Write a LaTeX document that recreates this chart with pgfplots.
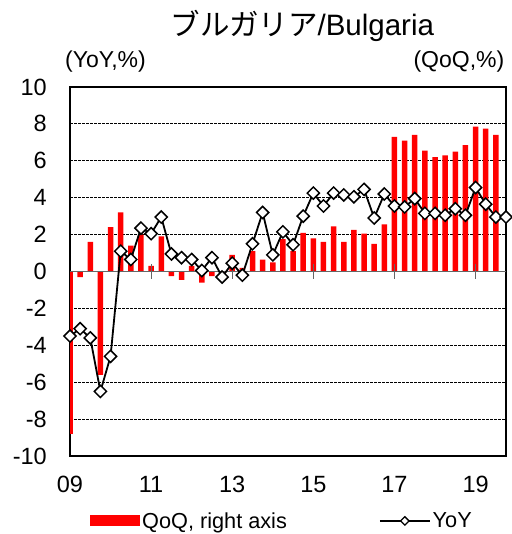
\documentclass[border=0pt]{standalone}
\usepackage{pgfplots}
\pgfplotsset{compat=1.18}
\usepackage{pgfplotstable}
\usepackage{fontspec}
\setmainfont{Liberation Sans}
\newfontfamily\jp{Noto Sans CJK JP}

\pgfplotstableread{
i qoq
0 -8.8
1 -0.3
2 1.6
3 -5.6
4 2.4
5 3.2
6 1.4
7 2.0
8 0.3
9 1.9
10 -0.25
11 -0.45
12 0.3
13 -0.6
14 -0.25
15 -0.1
16 0.9
17 0.2
18 1.1
19 0.65
20 0.5
21 1.75
22 1.1
23 2.1
24 1.8
25 1.6
26 2.45
27 1.6
28 2.25
29 2.05
30 1.5
31 2.55
32 7.3
33 7.1
34 7.4
35 6.55
36 6.2
37 6.3
38 6.5
39 6.85
40 7.85
41 7.75
42 7.4
}\qoqdata

\pgfplotstableread{
i yoy
0 -3.5
1 -3.1
2 -3.6
3 -6.5
4 -4.6
5 1.1
6 0.65
7 2.35
8 2.05
9 2.95
10 0.95
11 0.75
12 0.65
13 0.05
14 0.75
15 -0.3
16 0.45
17 -0.2
18 1.5
19 3.2
20 0.9
21 2.15
22 1.45
23 3.0
24 4.25
25 3.55
26 4.25
27 4.15
28 4.05
29 4.45
30 2.9
31 4.2
32 3.55
33 3.5
34 3.95
35 3.15
36 3.15
37 3.05
38 3.4
39 3.05
40 4.55
41 3.65
42 2.95
43 2.95
}\yoydata

\pgfplotsset{
  qoqlegend/.style={legend image code/.code={\fill[red] (0pt,-5.5pt) rectangle (50pt,5.5pt);}},
  yoylegend/.style={legend image code/.code={%
    \draw[black, line width=1.8pt] (0pt,0pt) -- (50pt,0pt);
    \draw[black, line width=1.3pt, fill=white] (25pt,4.2pt) -- (29.2pt,0pt) -- (25pt,-4.2pt) -- (20.8pt,0pt) -- cycle;}},
}

\begin{document}
\begin{tikzpicture}
\useasboundingbox (-70pt,-78pt) rectangle (441pt,456pt);
\begin{axis}[
  at={(0pt,0pt)}, anchor=south west,
  scale only axis, width=436pt, height=369pt,
  xmin=0, xmax=43, ymin=-10, ymax=10,
  clip mode=individual,
  axis line style={line width=2pt},
  ytick={-10,-8,...,10},
  yticklabels={-10,-8,-6,-4,-2,0,2,4,6,8,10},
  xtick={0,8,16,24,32,40},
  xticklabels={09,11,13,15,17,19},
  major tick length=0pt,
  ymajorgrids,
  major grid style={black, line width=0.8pt, dash pattern=on 2.5pt off 1.5pt},
  tick label style={font=\fontsize{23.5}{28}\selectfont},
  yticklabel style={inner sep=0pt, anchor=east, xshift=-23pt},
  xticklabel style={inner sep=0pt, anchor=north, yshift=-20pt},
  legend columns=2,
  legend style={draw=none, fill=none, inner sep=0pt, at={(0.0459,-0.176)}, anchor=west,
    font=\fontsize{21.7}{25}\selectfont, nodes={inner xsep=2pt},
    /tikz/every even column/.append style={column sep=90pt}},
]
\addplot[ybar, bar width=5.5pt, fill=red, draw=none, qoqlegend]
  table[x=i, y=qoq] {\qoqdata};
\addlegendentry{QoQ, right axis}
\draw[black!60, line width=1.3pt] (axis cs:0,0) -- (axis cs:43,0);
\draw[black!60, line width=1.2pt] (axis cs:8,-0.4) -- (axis cs:8,0.4);
\draw[black!60, line width=1.2pt] (axis cs:16,-0.4) -- (axis cs:16,0.4);
\draw[black!60, line width=1.2pt] (axis cs:24,-0.4) -- (axis cs:24,0.4);
\draw[black!60, line width=1.2pt] (axis cs:32,-0.4) -- (axis cs:32,0.4);
\draw[black!60, line width=1.2pt] (axis cs:40,-0.4) -- (axis cs:40,0.4);
\addplot[black, line width=1.8pt, mark=square*, mark size=4.3pt,
  mark options={fill=white, draw=black, line width=1.5pt, rotate=45}, yoylegend]
  table[x=i, y=yoy] {\yoydata};
\addlegendentry{YoY}
\end{axis}
\node[anchor=base, inner sep=0pt, font=\fontsize{29.5}{34}\selectfont] at (232.5pt,420pt) {{\jp ブルガリア}/Bulgaria};
\node[anchor=base west, inner sep=0pt, font=\fontsize{23}{27}\selectfont] at (-5pt,388pt) {(YoY,\%)};
\node[anchor=base east, inner sep=0pt, font=\fontsize{23}{27}\selectfont] at (434.5pt,388pt) {(QoQ,\%)};
\end{tikzpicture}
\end{document}
